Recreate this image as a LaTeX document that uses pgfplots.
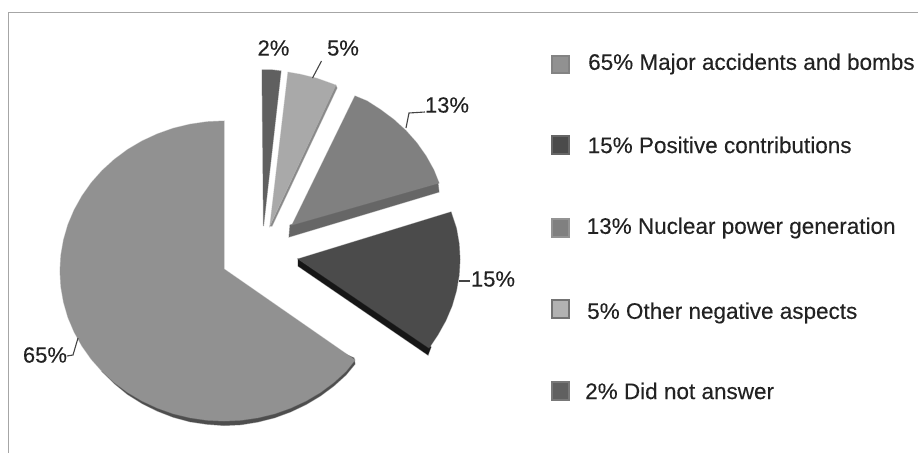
\documentclass[border=0pt]{standalone}
\usepackage{fontspec}
\setmainfont[FakeBold=0.25]{Liberation Sans}
\newfontfamily\thick[FakeBold=0.25]{Liberation Sans}
\usepackage{pgfplots}
\pgfplotsset{compat=1.18}
\definecolor{big}{HTML}{919191}
\definecolor{bigrim}{HTML}{4E4E4E}
\definecolor{pos}{HTML}{4B4B4B}
\definecolor{posrim}{HTML}{161616}
\definecolor{nuc}{HTML}{808080}
\definecolor{nucrim}{HTML}{666666}
\definecolor{oth}{HTML}{A9A9A9}
\definecolor{othrim}{HTML}{8A8A8A}
\definecolor{dna}{HTML}{606060}
\definecolor{txt}{HTML}{222222}
\definecolor{lead}{HTML}{444444}
\definecolor{frame}{HTML}{A6A6A6}
\pgfplotsset{
  slice/.style={fill=#1, draw=#1, draw opacity=.45, line width=1pt, mark=none},
  key/.style n args={2}{only marks, mark=square*, mark size=8.6pt,
    mark options={fill=#1, draw=#2, line width=2pt}},
}
\newcommand{\lab}{\thick\fontsize{22}{24}\selectfont\color{txt}}
\newcommand{\key}{\thick\fontsize{22.5}{24}\selectfont\color{txt}}
\begin{document}
\begin{tikzpicture}
\begin{axis}[
    width=918pt, height=453pt, scale only axis,
    xmin=0, xmax=918, ymin=0, ymax=453, y dir=reverse,
    hide axis,
]
% outer frame
\addplot[frame, line width=1.6pt, mark=none] coordinates {(8.5,453)(8.5,12.5)(918,12.5)};

% 65% slice, rim then face
\addplot[slice=bigrim] coordinates {
  (102.1,371.4)(114.3,383.5)(127.6,394.4)(142,403.4)(157.3,411)(173.3,417.2)(189.9,421.7)
  (206.9,424.2)(224,425.5)(241.1,424.7)(258.1,421.9)(274.7,417.7)(290.7,411.8)(306,404.5)
  (320.4,395.9)(333.7,386)(345.9,375)(355,364)(354,358)(224,300)
} --cycle;
\addplot[slice=big] coordinates {
  (224,269)(224,121)(206.9,121.8)(189.9,124.3)(173.3,128.3)(157.3,134)(142,141.1)(127.6,149.6)
  (114.3,159.5)(102.1,170.6)(91.3,182.8)(82,196)(74.2,210)(68,224.6)(63.6,239.8)(60.9,255.3)
  (60,271)(60.9,286.7)(63.6,302.2)(68,317.4)(74.2,332)(82,346)(91.3,359.2)(102.1,371.4)
  (114.3,382.5)(127.6,392.4)(142,400.9)(157.3,408)(173.3,413.7)(189.9,417.7)(206.9,420.2)
  (224,421)(241.1,420.2)(258.1,417.7)(274.7,413.7)(290.7,408)(306,400.9)(320.4,392.4)
  (333.7,382.5)(345.9,371.4)(355,360)
} --cycle;

% 15% slice
\addplot[slice=posrim] coordinates {(298,259)(298,266)(428,355)(431,347)} --cycle;
\addplot[slice=pos] coordinates {
  (298,259)(451,212)(456.4,228.3)(459.1,243.8)(460,259.5)(459.1,275.2)(456.4,290.7)
  (452,305.9)(445.8,320.5)(438,334.5)(429,348)
} --cycle;

% 13% slice
\addplot[slice=nucrim] coordinates {(290,225)(438,183)(439,192)(289,237)} --cycle;
\addplot[slice=nuc] coordinates {
  (292,225)(355,96)(367,101)(380.4,109.6)(393.7,119.5)(405.9,130.6)(416.7,142.8)
  (426,156)(433.8,170)(439,183)
} --cycle;

% 5% slice
\addplot[slice=othrim] coordinates {(270,226)(335.8,85.3)(337,88)(272,226)} --cycle;
\addplot[slice=oth] coordinates {
  (270,225)(288,72.2)(300.1,74.3)(316.7,78.3)(332.7,84)(335.8,85.3)
} --cycle;

% 2% slice
\addplot[slice=dna] coordinates {(263.5,226)(262,70)(271,69.8)(281,71)} --cycle;

% leader lines
\addplot[lead, line width=1.1pt, mark=none] coordinates {(312.5,78)(321.5,61)};
\addplot[lead, line width=1.1pt, mark=none] coordinates {(406,128)(409,113)(425,112)};
\addplot[lead, line width=1.1pt, mark=none] coordinates {(459,281)(470,281)};
\addplot[lead, line width=1.1pt, mark=none] coordinates {(78,338)(73,355)(67,356)};

% legend squares
\addplot[key={big}{bigrim!70}] coordinates {(560.5,64.3)};
\addplot[key={pos}{pos!85}] coordinates {(560.5,145)};
\addplot[key={nuc}{nuc!85}] coordinates {(560.5,228)};
\addplot[key={oth!90}{black!55}] coordinates {(560.5,309)};
\addplot[key={dna}{dna!85}] coordinates {(560.5,391)};

% slice labels
\node[anchor=center] at (axis cs:273.5,48) {\lab 2\%};
\node[anchor=center] at (axis cs:343,48) {\lab 5\%};
\node[anchor=center] at (axis cs:447,105) {\lab 13\%};
\node[anchor=center] at (axis cs:493,279) {\lab 15\%};
\node[anchor=center] at (axis cs:45,355) {\lab 65\%};

% legend text
\node[anchor=west, inner sep=0pt] at (axis cs:588,64) {\key 65\% Major accidents and bombs};
\node[anchor=west, inner sep=0pt] at (axis cs:587.5,145) {\key 15\% Positive contributions};
\node[anchor=west, inner sep=0pt] at (axis cs:586.5,228) {\key 13\% Nuclear power generation};
\node[anchor=west, inner sep=0pt] at (axis cs:587,313) {\key 5\% Other negative aspects};
\node[anchor=west, inner sep=0pt] at (axis cs:585,391) {\key 2\% Did not answer};
\end{axis}
% keep the page at the reference size
\path (current axis.south west) rectangle (current axis.north east);
\end{tikzpicture}
\end{document}
